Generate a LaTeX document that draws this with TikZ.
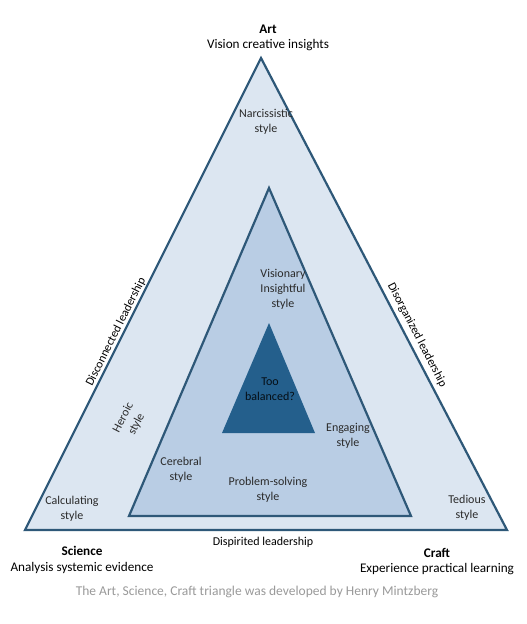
\documentclass[tikz,border=0pt]{standalone}
\usepackage{fontspec}
\setmainfont{Carlito}
\definecolor{outerfill}{HTML}{DCE6F1}
\definecolor{innerfill}{HTML}{B9CDE4}
\definecolor{darkfill}{HTML}{245F8C}
\definecolor{edgecol}{HTML}{2E5878}
\definecolor{labcol}{HTML}{2A2A2A}
\definecolor{capcol}{HTML}{9A9A9A}
\begin{document}
\begin{tikzpicture}[x=1pt,y=-1pt,
  tri/.style={draw=edgecol,line width=2.2pt,line join=miter},
  lab/.style={font=\fontsize{12}{15}\selectfont,text=labcol,align=center,inner sep=0pt},
  edgelab/.style={font=\fontsize{12}{14}\selectfont,text=black,inner sep=0pt},
  corner/.style={font=\fontsize{13.2}{16}\selectfont,text=black,align=center,inner sep=0pt}]
\useasboundingbox (0,0) rectangle (527,624);
\fill[white] (0,0) rectangle (527,624);
% triangles
\coordinate (oA) at (261,58);
\coordinate (oB) at (25,530);
\coordinate (oC) at (507,530);
\coordinate (iA) at (269,188);
\coordinate (iB) at (129,516);
\coordinate (iC) at (411,516);
\coordinate (dA) at (269,323);
\coordinate (dB) at (222,433);
\coordinate (dC) at (315,433);
\filldraw[tri,fill=outerfill] (oA) -- (oB) -- (oC) -- cycle;
\filldraw[tri,fill=innerfill] (iA) -- (iB) -- (iC) -- cycle;
\fill[darkfill] (dA) -- (dB) -- (dC) -- cycle;
% corner labels
\node[corner] (art) at (268,29) {\textbf{Art}};
\node[corner] (artd) at (268,45) {Vision creative insights};
\node[corner] (sci) at (82,551) {\textbf{Science}};
\node[corner] (scid) at (82,568) {Analysis systemic evidence};
\node[corner] (craft) at (437,553) {\textbf{Craft}};
\node[corner] (craftd) at (437,569) {Experience practical learning};
% edge labels
\node[edgelab,rotate=63.4] (disc) at (116,332) {Disconnected leadership};
\node[edgelab,rotate=-62.6] (disorg) at (417,335) {Disorganized leadership};
\node[edgelab] (disp) at (263,542) {Dispirited leadership};
% style labels
\node[lab] (narc) at (266,122) {Narcissistic\\style};
\node[lab,rotate=63] (hero) at (130,421) {Heroic\\style};
\node[lab] (calc) at (72,509) {Calculating\\style};
\node[lab] (tedi) at (467,508) {Tedious\\style};
\node[lab] (vis) at (283,289) {Visionary\\Insightful\\style};
\node[lab] (cere) at (181,470) {Cerebral\\style};
\node[lab] (prob) at (268,490) {Problem-solving\\style};
\node[lab] (enga) at (348,436) {Engaging\\style};
\node[lab,text=black!85!darkfill] (too) at (270,389) {Too\\balanced?};
% caption
\node[font=\fontsize{13.5}{15}\selectfont,text=capcol,inner sep=0pt] (cap) at (257,592) {The Art, Science, Craft triangle was developed by Henry Mintzberg};
\end{tikzpicture}
\end{document}
